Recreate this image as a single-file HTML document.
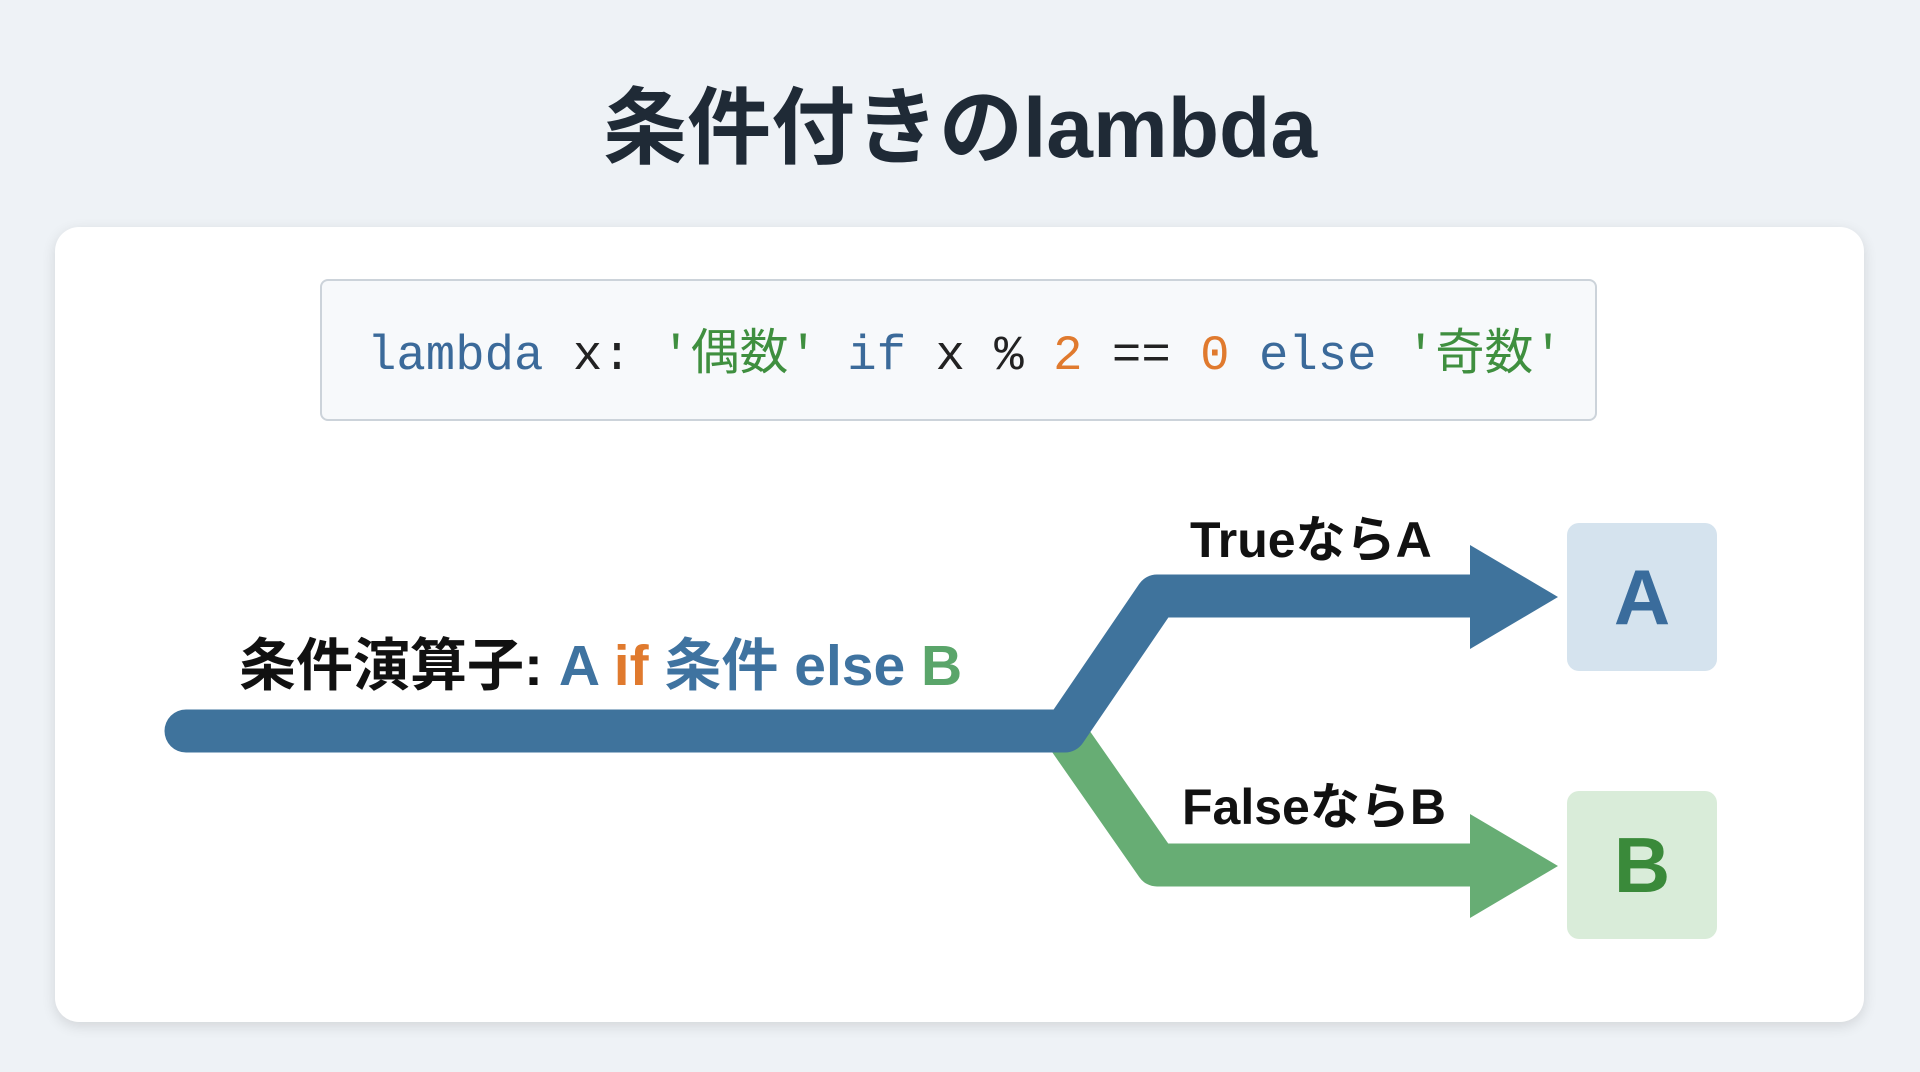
<!DOCTYPE html>
<html><head><meta charset="utf-8"><style>
body{margin:0;width:1920px;height:1072px;background:#eef2f6;font-family:"Liberation Sans","Noto Sans CJK JP",sans-serif;position:relative;overflow:hidden}
.t{position:absolute;left:0;width:1920px;text-align:center;top:78px;font-size:84px;font-weight:bold;color:#1f2a36;line-height:100px}
.card{position:absolute;left:55px;top:227px;width:1809px;height:795px;background:#fff;border-radius:24px;box-shadow:0 4px 14px rgba(0,0,0,.12)}
.code{position:absolute;left:320px;top:279px;width:1277px;height:142px;background:#f7f9fb;border:2px solid #ccd3da;border-radius:8px;box-sizing:border-box;font-family:"Liberation Mono","Noto Sans CJK JP",monospace;font-size:49px;line-height:150px;padding-left:45px;color:#222;white-space:pre}
.k{color:#3b6a9a}.s{color:#3f8f3f}.n{color:#e07a2e}
.lbl{position:absolute;font-weight:bold;color:#111;white-space:nowrap}
.box{position:absolute;left:1567px;width:150px;height:148px;border-radius:12px;text-align:center;line-height:148px;font-size:78px;font-weight:bold}
</style></head><body>
<div class="t">条件付きのlambda</div>
<div class="card"></div>
<div class="code"><span class="k">lambda</span> x: <span class="s">'偶数'</span> <span class="k">if</span> x % <span class="n">2</span> == <span class="n">0</span> <span class="k">else</span> <span class="s">'奇数'</span></div>
<svg style="position:absolute;left:0;top:0" width="1920" height="1072">
<polyline points="1065,733 1157,865 1480,865" fill="none" stroke="#67ad74" stroke-width="43" stroke-linejoin="round"/>
<polygon points="1470,814 1558,866 1470,918" fill="#67ad74"/>
<polyline points="186,731 1065,731 1157,596 1480,596" fill="none" stroke="#3f739c" stroke-width="43" stroke-linecap="round" stroke-linejoin="round"/>
<rect x="1450" y="575" width="30" height="42" fill="#3f739c"/>
<polygon points="1470,545 1558,597 1470,649" fill="#3f739c"/>
</svg>
<div class="lbl" style="left:1190px;top:500px;font-size:50px">TrueならA</div>
<div class="lbl" style="left:1182px;top:767px;font-size:50px">FalseならB</div>
<div class="lbl" style="left:239px;top:620px;font-size:57px">条件演算子: <span style="color:#3f73a0">A</span> <span style="color:#e07a2e">if</span> <span style="color:#3f73a0">条件 else</span> <span style="color:#5aa56a">B</span></div>
<div class="box" style="top:523px;background:#d5e3ee;color:#3a6c9c">A</div>
<div class="box" style="top:791px;background:#d9ecd9;color:#3a8a3a">B</div>
</body></html>
